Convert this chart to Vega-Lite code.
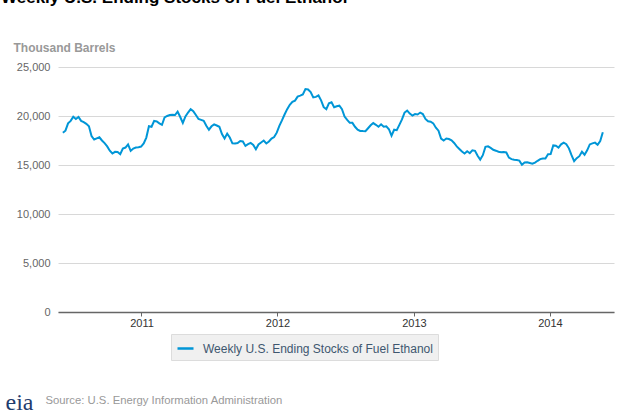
{
 "$schema": "https://vega.github.io/schema/vega-lite/v6.json",
 "width": 556,
 "height": 245,
 "autosize": {"type": "none"},
 "padding": {"left": 58, "top": 67, "right": 5, "bottom": 101},
 "background": "white",
 "title": {"text": "Weekly U.S. Ending Stocks of Fuel Ethanol", "anchor": "start", "frame": "group", "dx": -57, "offset": 34, "font": "Liberation Sans", "fontSize": 17, "fontWeight": "bold", "color": "#000000"},
 "config": {"view": {"stroke": null}, "font": "Liberation Sans"},
 "data": {"values": [
  {"d":"2010-06-04","v":18290},{"d":"2010-06-11","v":18500},{"d":"2010-06-18","v":19250},{"d":"2010-06-25","v":19500},
  {"d":"2010-07-02","v":19930},{"d":"2010-07-09","v":19700},{"d":"2010-07-16","v":19900},{"d":"2010-07-23","v":19500},{"d":"2010-07-30","v":19380},
  {"d":"2010-08-06","v":19200},{"d":"2010-08-13","v":18960},{"d":"2010-08-20","v":17950},{"d":"2010-08-27","v":17600},
  {"d":"2010-09-03","v":17720},{"d":"2010-09-10","v":17830},{"d":"2010-09-17","v":17500},{"d":"2010-09-24","v":17230},
  {"d":"2010-10-01","v":16900},{"d":"2010-10-08","v":16460},{"d":"2010-10-15","v":16170},{"d":"2010-10-22","v":16340},{"d":"2010-10-29","v":16330},
  {"d":"2010-11-05","v":16100},{"d":"2010-11-12","v":16680},{"d":"2010-11-19","v":16780},{"d":"2010-11-26","v":17100},
  {"d":"2010-12-03","v":16440},{"d":"2010-12-10","v":16680},{"d":"2010-12-17","v":16780},{"d":"2010-12-24","v":16820},{"d":"2010-12-31","v":16880},
  {"d":"2011-01-07","v":17200},{"d":"2011-01-14","v":17800},{"d":"2011-01-21","v":18960},{"d":"2011-01-28","v":18900},
  {"d":"2011-02-04","v":19500},{"d":"2011-02-11","v":19450},{"d":"2011-02-18","v":19250},{"d":"2011-02-25","v":19100},
  {"d":"2011-03-04","v":19850},{"d":"2011-03-11","v":20000},{"d":"2011-03-18","v":20100},{"d":"2011-03-25","v":20130},
  {"d":"2011-04-01","v":20100},{"d":"2011-04-08","v":20450},{"d":"2011-04-15","v":19900},{"d":"2011-04-22","v":19300},{"d":"2011-04-29","v":19950},
  {"d":"2011-05-06","v":20350},{"d":"2011-05-13","v":20700},{"d":"2011-05-20","v":20500},{"d":"2011-05-27","v":20100},
  {"d":"2011-06-03","v":19700},{"d":"2011-06-10","v":19600},{"d":"2011-06-17","v":19500},{"d":"2011-06-24","v":19000},
  {"d":"2011-07-01","v":18600},{"d":"2011-07-08","v":18950},{"d":"2011-07-15","v":19150},{"d":"2011-07-22","v":19030},{"d":"2011-07-29","v":18900},
  {"d":"2011-08-05","v":18150},{"d":"2011-08-12","v":17700},{"d":"2011-08-19","v":18200},{"d":"2011-08-26","v":17800},
  {"d":"2011-09-02","v":17210},{"d":"2011-09-09","v":17200},{"d":"2011-09-16","v":17250},{"d":"2011-09-23","v":17450},{"d":"2011-09-30","v":17400},
  {"d":"2011-10-07","v":16950},{"d":"2011-10-14","v":17120},{"d":"2011-10-21","v":17250},{"d":"2011-10-28","v":17050},
  {"d":"2011-11-04","v":16600},{"d":"2011-11-11","v":17100},{"d":"2011-11-18","v":17300},{"d":"2011-11-25","v":17500},
  {"d":"2011-12-02","v":17200},{"d":"2011-12-09","v":17400},{"d":"2011-12-16","v":17700},{"d":"2011-12-23","v":17850},{"d":"2011-12-30","v":18300},
  {"d":"2012-01-06","v":19000},{"d":"2012-01-13","v":19550},{"d":"2012-01-20","v":20150},{"d":"2012-01-27","v":20700},
  {"d":"2012-02-03","v":21150},{"d":"2012-02-10","v":21450},{"d":"2012-02-17","v":21570},{"d":"2012-02-24","v":21980},
  {"d":"2012-03-02","v":22080},{"d":"2012-03-09","v":22200},{"d":"2012-03-16","v":22750},{"d":"2012-03-23","v":22700},{"d":"2012-03-30","v":22450},
  {"d":"2012-04-06","v":21900},{"d":"2012-04-13","v":21950},{"d":"2012-04-20","v":22100},{"d":"2012-04-27","v":21600},
  {"d":"2012-05-04","v":20900},{"d":"2012-05-11","v":20700},{"d":"2012-05-18","v":21300},{"d":"2012-05-25","v":21400},
  {"d":"2012-06-01","v":20900},{"d":"2012-06-08","v":21000},{"d":"2012-06-15","v":21050},{"d":"2012-06-22","v":20700},{"d":"2012-06-29","v":19950},
  {"d":"2012-07-06","v":19600},{"d":"2012-07-13","v":19300},{"d":"2012-07-20","v":19300},{"d":"2012-07-27","v":18900},
  {"d":"2012-08-03","v":18600},{"d":"2012-08-10","v":18480},{"d":"2012-08-17","v":18460},{"d":"2012-08-24","v":18450},{"d":"2012-08-31","v":18750},
  {"d":"2012-09-07","v":19050},{"d":"2012-09-14","v":19280},{"d":"2012-09-21","v":19100},{"d":"2012-09-28","v":18900},
  {"d":"2012-10-05","v":19150},{"d":"2012-10-12","v":18900},{"d":"2012-10-19","v":18950},{"d":"2012-10-26","v":18650},
  {"d":"2012-11-02","v":18000},{"d":"2012-11-09","v":18600},{"d":"2012-11-16","v":18550},{"d":"2012-11-23","v":19100},{"d":"2012-11-30","v":19650},
  {"d":"2012-12-07","v":20350},{"d":"2012-12-14","v":20550},{"d":"2012-12-21","v":20250},{"d":"2012-12-28","v":20050},
  {"d":"2013-01-04","v":20200},{"d":"2013-01-11","v":20150},{"d":"2013-01-18","v":20350},{"d":"2013-01-25","v":20200},
  {"d":"2013-02-01","v":19700},{"d":"2013-02-08","v":19460},{"d":"2013-02-15","v":19420},{"d":"2013-02-22","v":19250},
  {"d":"2013-03-01","v":18800},{"d":"2013-03-08","v":18500},{"d":"2013-03-15","v":17700},{"d":"2013-03-22","v":17500},{"d":"2013-03-29","v":17700},
  {"d":"2013-04-05","v":17650},{"d":"2013-04-12","v":17520},{"d":"2013-04-19","v":17250},{"d":"2013-04-26","v":16900},
  {"d":"2013-05-03","v":16640},{"d":"2013-05-10","v":16370},{"d":"2013-05-17","v":16170},{"d":"2013-05-24","v":16400},{"d":"2013-05-31","v":16200},
  {"d":"2013-06-07","v":16500},{"d":"2013-06-14","v":16450},{"d":"2013-06-21","v":15950},{"d":"2013-06-28","v":15550},
  {"d":"2013-07-05","v":16000},{"d":"2013-07-12","v":16850},{"d":"2013-07-19","v":16900},{"d":"2013-07-26","v":16740},
  {"d":"2013-08-02","v":16550},{"d":"2013-08-09","v":16460},{"d":"2013-08-16","v":16350},{"d":"2013-08-23","v":16300},{"d":"2013-08-30","v":16330},
  {"d":"2013-09-06","v":16280},{"d":"2013-09-13","v":15750},{"d":"2013-09-20","v":15600},{"d":"2013-09-27","v":15530},
  {"d":"2013-10-04","v":15500},{"d":"2013-10-11","v":15450},{"d":"2013-10-18","v":15030},{"d":"2013-10-25","v":15260},
  {"d":"2013-11-01","v":15270},{"d":"2013-11-08","v":15200},{"d":"2013-11-15","v":15130},{"d":"2013-11-22","v":15250},{"d":"2013-11-29","v":15430},
  {"d":"2013-12-06","v":15600},{"d":"2013-12-13","v":15670},{"d":"2013-12-20","v":15670},{"d":"2013-12-27","v":16100},
  {"d":"2014-01-03","v":16120},{"d":"2014-01-10","v":17000},{"d":"2014-01-17","v":16960},{"d":"2014-01-24","v":16780},{"d":"2014-01-31","v":17110},
  {"d":"2014-02-07","v":17280},{"d":"2014-02-14","v":17130},{"d":"2014-02-21","v":16700},{"d":"2014-02-28","v":16000},
  {"d":"2014-03-07","v":15400},{"d":"2014-03-14","v":15700},{"d":"2014-03-21","v":15900},{"d":"2014-03-28","v":16350},
  {"d":"2014-04-04","v":16050},{"d":"2014-04-11","v":16500},{"d":"2014-04-18","v":17100},{"d":"2014-04-25","v":17210},
  {"d":"2014-05-02","v":17280},{"d":"2014-05-09","v":17060},{"d":"2014-05-16","v":17450},{"d":"2014-05-23","v":18350}
 ]},
 "layer": [
  {
   "mark": {"type": "line", "strokeWidth": 2, "clip": false},
   "encoding": {
    "x": {
     "field": "d", "type": "temporal",
     "scale": {"type": "utc", "domain": [{"year": 2010, "month": "may", "date": 22, "utc": true}, {"year": 2014, "month": "jun", "date": 22, "utc": true}]},
     "axis": {
      "format": "%Y", "tickCount": {"interval": "year", "step": 1}, "grid": false,
      "domainColor": "#666666", "domainWidth": 1.5, "tickColor": "#666666", "tickSize": 4, "tickWidth": 1,
      "labelFont": "Liberation Sans", "labelFontSize": 11, "labelColor": "#333333", "labelPadding": 1,
      "title": "Source: U.S. Energy Information Administration",
      "titleX": -13, "titleY": 88, "titleAlign": "left", "titleAnchor": "start", "titleBaseline": "middle",
      "titleFont": "Liberation Sans", "titleFontSize": 11.3, "titleFontWeight": "normal", "titleColor": "#999999"
     }
    },
    "y": {
     "field": "v", "type": "quantitative",
     "scale": {"domain": [0, 25000]},
     "axis": {
      "values": [0, 5000, 10000, 15000, 20000, 25000], "format": ",.0f",
      "ticks": false, "domain": false, "gridColor": "#d8d8d8", "gridWidth": 1,
      "labelFont": "Liberation Sans", "labelFontSize": 11, "labelColor": "#666666", "labelPadding": 8,
      "title": "Thousand Barrels", "titleAngle": 0, "titleAlign": "left", "titleBaseline": "middle",
      "titleX": -45, "titleY": -20, "titleFont": "Liberation Sans", "titleFontSize": 12, "titleFontWeight": "bold", "titleColor": "#999999"
     }
    },
    "color": {
     "datum": "Weekly U.S. Ending Stocks of Fuel Ethanol",
     "scale": {"range": ["#0096d7"]},
     "legend": {
      "orient": "none", "legendX": 113, "legendY": 267, "title": null,
      "padding": 5, "fillColor": "#f0f0f0", "strokeColor": "#dcdcdc", "cornerRadius": 0,
      "symbolType": "stroke", "symbolSize": 256, "symbolStrokeWidth": 2.5,
      "labelFont": "Liberation Sans", "labelFontSize": 12, "labelColor": "#3e576f", "labelOffset": 8, "labelLimit": 400
     }
    }
   }
  },
  {
   "mark": {"type": "line", "opacity": 0},
   "encoding": {
    "x": {"field": "d", "type": "temporal"},
    "y": {
     "field": "v", "type": "quantitative",
     "scale": {"domain": [0, 25000]},
     "axis": {
      "orient": "right", "labels": false, "ticks": false, "domain": false, "grid": false,
      "title": "eia", "titleAngle": 0, "titleAlign": "left", "titleBaseline": "alphabetic",
      "titleX": -609, "titleY": 342, "titleFont": "Liberation Serif", "titleFontSize": 24, "titleFontWeight": "normal", "titleColor": "#1f3d6e"
     }
    }
   }
  }
 ],
 "resolve": {"scale": {"y": "independent"}}
}
